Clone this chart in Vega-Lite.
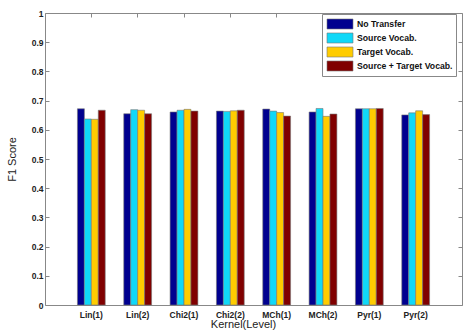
{
  "$schema": "https://vega.github.io/schema/vega-lite/v6.json",
  "width": 417,
  "height": 292,
  "autosize": {"type": "none"},
  "padding": {"left": 45, "top": 13, "right": 9, "bottom": 26},
  "background": "white",
  "config": {
    "font": "Liberation Sans",
    "view": {"stroke": "#888888", "strokeWidth": 1},
    "axis": {"grid": false, "domain": false, "tickColor": "#888888", "labelColor": "#222222", "titleColor": "#222222"}
  },
  "data": {
    "values": [
      {"kernel": "Lin(1)", "series": "No Transfer", "f1": 0.672},
      {"kernel": "Lin(1)", "series": "Source Vocab.", "f1": 0.637},
      {"kernel": "Lin(1)", "series": "Target Vocab.", "f1": 0.636},
      {"kernel": "Lin(1)", "series": "Source + Target Vocab.", "f1": 0.667},
      {"kernel": "Lin(2)", "series": "No Transfer", "f1": 0.655},
      {"kernel": "Lin(2)", "series": "Source Vocab.", "f1": 0.669},
      {"kernel": "Lin(2)", "series": "Target Vocab.", "f1": 0.667},
      {"kernel": "Lin(2)", "series": "Source + Target Vocab.", "f1": 0.655},
      {"kernel": "Chi2(1)", "series": "No Transfer", "f1": 0.661},
      {"kernel": "Chi2(1)", "series": "Source Vocab.", "f1": 0.667},
      {"kernel": "Chi2(1)", "series": "Target Vocab.", "f1": 0.670},
      {"kernel": "Chi2(1)", "series": "Source + Target Vocab.", "f1": 0.664},
      {"kernel": "Chi2(2)", "series": "No Transfer", "f1": 0.664},
      {"kernel": "Chi2(2)", "series": "Source Vocab.", "f1": 0.663},
      {"kernel": "Chi2(2)", "series": "Target Vocab.", "f1": 0.665},
      {"kernel": "Chi2(2)", "series": "Source + Target Vocab.", "f1": 0.667},
      {"kernel": "MCh(1)", "series": "No Transfer", "f1": 0.671},
      {"kernel": "MCh(1)", "series": "Source Vocab.", "f1": 0.664},
      {"kernel": "MCh(1)", "series": "Target Vocab.", "f1": 0.659},
      {"kernel": "MCh(1)", "series": "Source + Target Vocab.", "f1": 0.647},
      {"kernel": "MCh(2)", "series": "No Transfer", "f1": 0.661},
      {"kernel": "MCh(2)", "series": "Source Vocab.", "f1": 0.673},
      {"kernel": "MCh(2)", "series": "Target Vocab.", "f1": 0.646},
      {"kernel": "MCh(2)", "series": "Source + Target Vocab.", "f1": 0.654},
      {"kernel": "Pyr(1)", "series": "No Transfer", "f1": 0.672},
      {"kernel": "Pyr(1)", "series": "Source Vocab.", "f1": 0.672},
      {"kernel": "Pyr(1)", "series": "Target Vocab.", "f1": 0.672},
      {"kernel": "Pyr(1)", "series": "Source + Target Vocab.", "f1": 0.673},
      {"kernel": "Pyr(2)", "series": "No Transfer", "f1": 0.651},
      {"kernel": "Pyr(2)", "series": "Source Vocab.", "f1": 0.658},
      {"kernel": "Pyr(2)", "series": "Target Vocab.", "f1": 0.665},
      {"kernel": "Pyr(2)", "series": "Source + Target Vocab.", "f1": 0.652}
    ]
  },
  "layer": [
    {
      "mark": {"type": "bar", "stroke": "#777777", "strokeWidth": 0.6},
      "encoding": {
        "x": {
          "field": "kernel", "type": "nominal", "sort": null,
          "scale": {"paddingInner": 0.4, "paddingOuter": 0.7},
          "axis": {"labelAngle": 0, "labelFontSize": 8.5, "labelFontWeight": "bold", "labelPadding": 9,
                   "tickSize": -4, "title": "Kernel(Level)", "titleFontSize": 11, "titleFontWeight": "normal",
                   "titlePadding": 0, "titleX": 198}
        },
        "xOffset": {
          "field": "series", "type": "nominal",
          "sort": ["No Transfer", "Source Vocab.", "Target Vocab.", "Source + Target Vocab."],
          "scale": {"paddingInner": 0, "paddingOuter": 0}
        },
        "y": {
          "field": "f1", "type": "quantitative",
          "scale": {"domain": [0, 1], "nice": false},
          "axis": {"values": [0, 0.1, 0.2, 0.3, 0.4, 0.5, 0.6, 0.7, 0.8, 0.9, 1], "format": "~g",
                   "labelFontSize": 8.5, "labelFontWeight": "bold", "labelPadding": 6, "tickSize": -4,
                   "title": "F1 Score", "titleFontSize": 11, "titleFontWeight": "normal", "titlePadding": 14}
        },
        "color": {
          "field": "series", "type": "nominal",
          "sort": ["No Transfer", "Source Vocab.", "Target Vocab.", "Source + Target Vocab."],
          "scale": {"domain": ["No Transfer", "Source Vocab.", "Target Vocab.", "Source + Target Vocab."],
                    "range": ["#00008F", "#10D8F8", "#FFCC00", "#800000"]},
          "legend": {
            "title": null, "orient": "none", "legendX": 277, "legendY": 1,
            "strokeColor": "#888888", "fillColor": "white", "padding": 3,
            "labelFontSize": 8.7, "labelFontWeight": "bold", "labelColor": "#111111",
            "symbolType": "M-2,-0.77H2V0.77H-2Z", "symbolSize": 169,
            "symbolOffset": 8,
            "symbolStrokeColor": "#777777", "symbolStrokeWidth": 0.6, "symbolOpacity": 1,
            "rowPadding": 0, "labelOffset": 10
          }
        }
      }
    },
    {
      "mark": {"type": "bar", "opacity": 0},
      "encoding": {
        "x": {"field": "kernel", "type": "nominal", "sort": null,
              "axis": {"orient": "top", "labels": false, "title": null, "tickSize": -4}},
        "y": {"field": "f1", "type": "quantitative",
              "axis": {"orient": "right", "labels": false, "title": null, "tickSize": -4,
                       "values": [0, 0.1, 0.2, 0.3, 0.4, 0.5, 0.6, 0.7, 0.8, 0.9, 1]}}
      }
    }
  ],
  "resolve": {"axis": {"x": "independent", "y": "independent"}}
}
